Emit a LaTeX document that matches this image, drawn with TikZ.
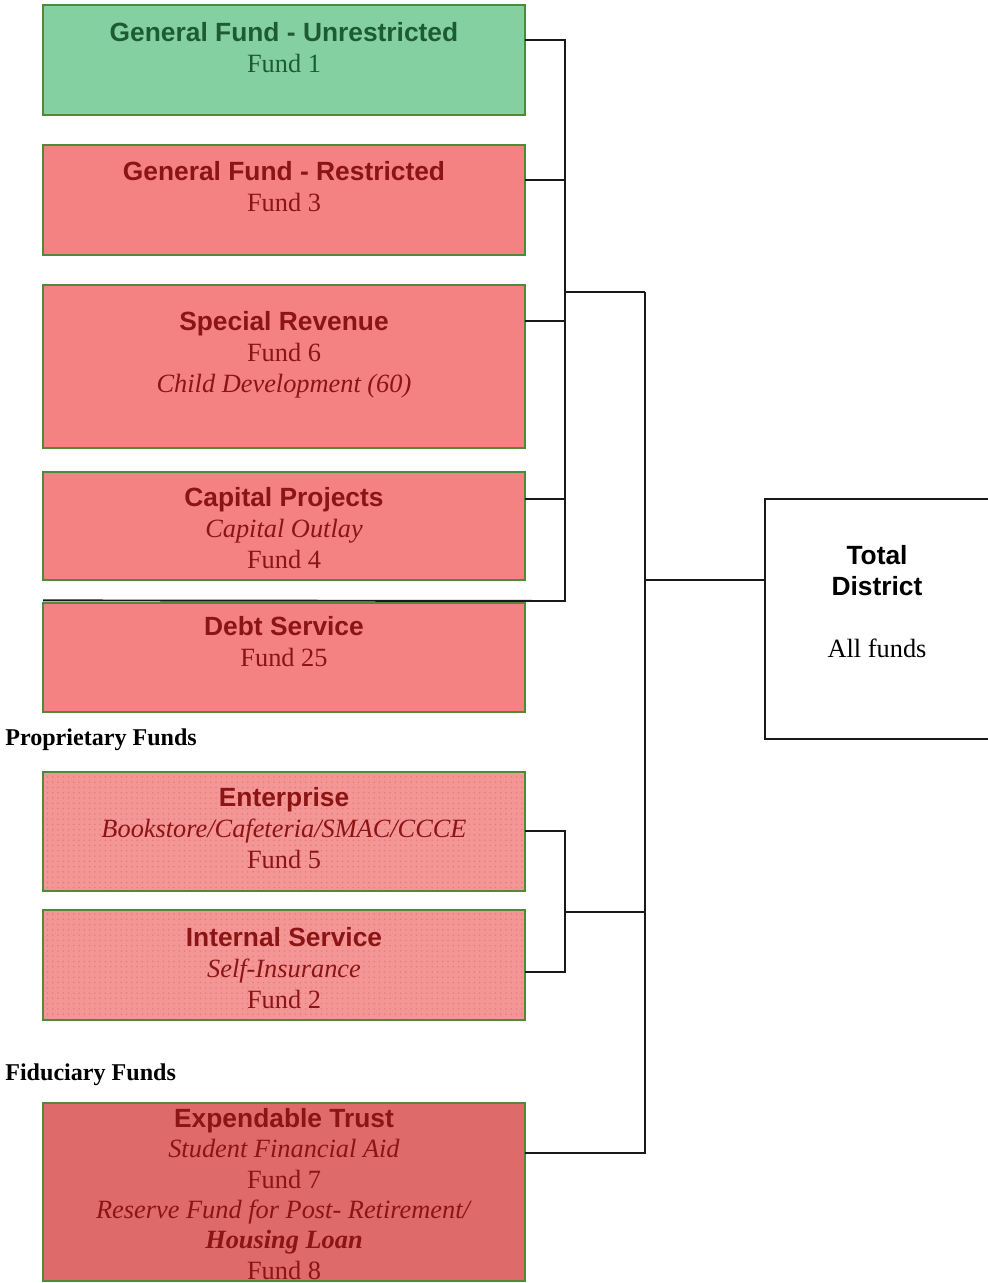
\documentclass[tikz,border=0pt]{standalone}
\usepackage{fontspec}
\setmainfont{Liberation Serif}
\newfontfamily\headfont{Liberation Sans}
\usepackage{xcolor}
\usetikzlibrary{positioning,patterns}

\definecolor{boxgreen}{HTML}{4E8A3A}
\definecolor{unresfill}{HTML}{84D0A0}
\definecolor{unrestext}{HTML}{1D5C33}
\definecolor{restfill}{HTML}{F48282}
\definecolor{resttext}{HTML}{8B1414}
\definecolor{propfill}{HTML}{F59696}
\definecolor{propdots}{HTML}{E97A7A}
\definecolor{trustfill}{HTML}{DE6A6A}

\newcommand{\fundhead}[1]{{\headfont\bfseries #1}}

\begin{document}
\begin{tikzpicture}[
    x=0.02cm, y=-0.02cm,
    node distance=0.6cm,
    fund/.style={rectangle, draw=boxgreen, line width=1.2pt, fill=restfill, minimum width=9.64cm, inner sep=0pt, outer sep=0pt},
    dotfund/.style={fund, preaction={fill=propfill}, pattern=dots, pattern color=propdots},
    fundtext/.style={anchor=north, align=center, inner sep=0pt, text=resttext, font=\fontsize{15}{17.6}\selectfont},
    grouplabel/.style={anchor=west, inner sep=0pt, font=\fontsize{13.7}{16}\selectfont\bfseries},
    link/.style={draw=black!90, line width=1.1pt}
]
\useasboundingbox (0,0) rectangle (987,1283);

% Governmental funds
\node[fund, fill=unresfill, minimum height=2.2cm] (unres) at (284,60) {};
\node[fund, minimum height=2.2cm, below=of unres] (restr) {};
\node[fund, minimum height=3.26cm, below=of restr] (special) {};
\node[fund, minimum height=2.16cm, below=0.48cm of special] (capital) {};
\node[fund, minimum height=2.18cm, below=0.46cm of capital] (debt) {};

\node[fundtext, text=unrestext] (unres-t) at ([yshift=-0.34cm]unres.north) {\fundhead{General Fund - Unrestricted}\\
Fund 1};
\node[fundtext] (restr-t) at ([yshift=-0.32cm]restr.north) {\fundhead{General Fund - Restricted}\\
Fund 3};
\node[fundtext] (special-t) at ([yshift=-0.52cm]special.north) {\fundhead{Special Revenue}\\
Fund 6\\
\textit{Child Development (60)}};
\node[fundtext] (capital-t) at ([yshift=-0.3cm]capital.north) {\fundhead{Capital Projects}\\
\textit{Capital Outlay}\\
Fund 4};
\node[fundtext] (debt-t) at ([yshift=-0.26cm]debt.north) {\fundhead{Debt Service}\\
Fund 25};

% Proprietary funds
\node[grouplabel] (propr) at (5,740) {Proprietary Funds};
\node[dotfund, minimum height=2.38cm, below=1.2cm of debt] (enterprise) {};
\node[dotfund, minimum height=2.2cm, below=0.38cm of enterprise] (internal) {};

\node[fundtext] (enterprise-t) at ([yshift=-0.3cm]enterprise.north) {\fundhead{Enterprise}\\
\textit{Bookstore/Cafeteria/SMAC/CCCE}\\
Fund 5};
\node[fundtext] (internal-t) at ([yshift=-0.34cm]internal.north) {\fundhead{Internal Service}\\
\textit{Self-Insurance}\\
Fund 2};

% Fiduciary funds
\node[grouplabel] (fiduc) at (5,1075) {Fiduciary Funds};
\node[fund, fill=trustfill, minimum height=3.56cm, below=1.66cm of internal] (trust) {};
\node[fundtext, font=\fontsize{15}{17.3}\selectfont] (trust-t) at ([yshift=-0.1cm]trust.north) {\fundhead{Expendable Trust}\\
\textit{Student Financial Aid}\\
Fund 7\\
\textit{Reserve Fund for Post- Retirement/}\\
\textbf{\textit{Housing Loan}}\\
Fund 8};

% Total
\node[draw=black!90, line width=1.1pt, fill=white, minimum width=4.48cm, minimum height=4.8cm, inner sep=0pt, outer sep=0pt] (total) at (877,619) {};
\node[fundtext, text=black] (total-t) at ([yshift=-0.92cm]total.north) {\fundhead{Total}\\
\fundhead{District}\\[17.6pt]
All funds};

% Connectors
\coordinate (busA-bot) at (565,601);
\coordinate (busA-mid) at (565,292);
\coordinate (main-top) at (645,292);
\coordinate (busB-mid) at (565,912);

\draw[link] ([yshift=0.4cm]unres.east) -| (busA-bot) -- ([yshift=0.05cm]debt.north west);
\draw[link] ([yshift=0.4cm]restr.east) -- ++(0.8cm,0);
\draw[link] ([yshift=0.91cm]special.east) -- ++(0.8cm,0);
\draw[link] ([yshift=0.54cm]capital.east) -- ++(0.8cm,0);
\draw[link] (busA-mid) -- (main-top);

\draw[link] (enterprise.east) -- ++(0.8cm,0) |- ([yshift=-0.14cm]internal.east);
\draw[link] (busB-mid) -- (busB-mid -| main-top);

\draw[link] ([yshift=0.78cm]trust.east) -| (main-top);
\draw[link] ([yshift=0.78cm]total.west) -- ++(-2.4cm,0);

\end{tikzpicture}
\end{document}
